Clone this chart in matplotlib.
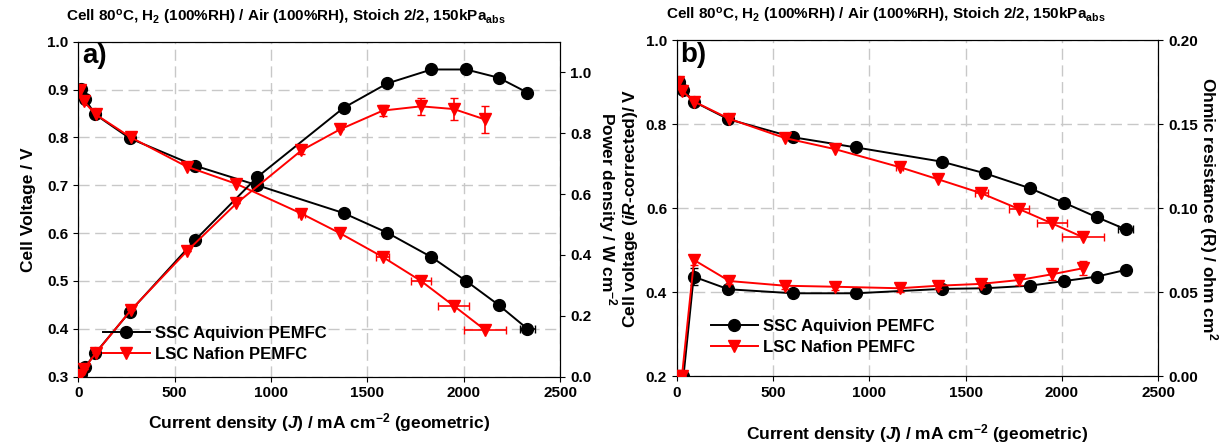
import numpy as np
import matplotlib.pyplot as plt

plt.rcParams['font.family'] = 'Liberation Sans'
plt.rcParams['font.weight'] = 'bold'
plt.rcParams['axes.labelweight'] = 'bold'
plt.rcParams['mathtext.fontset'] = 'custom'
plt.rcParams['mathtext.rm'] = 'Liberation Sans:bold'
plt.rcParams['mathtext.bf'] = 'Liberation Sans:bold'
plt.rcParams['mathtext.it'] = 'Liberation Sans:italic:bold'
plt.rcParams['mathtext.default'] = 'bf'

# SSC Aquivion PEMFC (black)
j_ssc = [12, 35, 88, 268, 605, 929, 1376, 1602, 1832, 2012, 2180, 2330]
v_ssc = [0.901, 0.880, 0.848, 0.798, 0.741, 0.700, 0.642, 0.601, 0.550, 0.500, 0.450, 0.400]
p_ssc = [0.010, 0.031, 0.077, 0.214, 0.448, 0.656, 0.883, 0.963, 1.009, 1.009, 0.982, 0.933]
jerr_ssc = [0, 0, 0, 0, 0, 0, 10, 12, 12, 18, 20, 40]
virc_ssc = [0.901, 0.882, 0.854, 0.812, 0.769, 0.745, 0.711, 0.683, 0.648, 0.613, 0.579, 0.550]
r_ssc = [0.0, 0.0, 0.0593, 0.0518, 0.0494, 0.0494, 0.0520, 0.0524, 0.0539, 0.0567, 0.0593, 0.0633]
rerr_ssc = [0, 0, 0.0052, 0.001, 0.001, 0.001, 0.001, 0.001, 0.001, 0.001, 0.001, 0.001]

# LSC Nafion PEMFC (red)
j_lsc = [7, 27, 90, 273, 563, 820, 1157, 1357, 1580, 1778, 1948, 2109]
v_lsc = [0.900, 0.876, 0.848, 0.800, 0.739, 0.703, 0.641, 0.600, 0.550, 0.500, 0.448, 0.398]
p_lsc = [0.006, 0.024, 0.077, 0.219, 0.412, 0.569, 0.743, 0.812, 0.874, 0.888, 0.879, 0.845]
jerr_lsc = [0, 0, 0, 0, 0, 0, 18, 0, 34, 52, 80, 110]
perr_lsc = [0, 0, 0, 0, 0, 0, 0.012, 0, 0.019, 0.027, 0.037, 0.044]
virc_lsc = [0.900, 0.880, 0.854, 0.813, 0.767, 0.741, 0.698, 0.669, 0.636, 0.598, 0.564, 0.531]
r_lsc = [0.0, 0.0, 0.0692, 0.0567, 0.0539, 0.0533, 0.0524, 0.0539, 0.0550, 0.0573, 0.0607, 0.0643]
rerr_lsc = [0, 0, 0.003, 0.002, 0.002, 0.002, 0.002, 0.002, 0.002, 0.003, 0.0033, 0.0043]

title = 'Cell 80$^{o}$C, H$_2$ (100%RH) / Air (100%RH), Stoich 2/2, 150kPa$_{abs}$'
xlab = 'Current density ($\\mathit{J}$) / mA cm$^{-2}$ (geometric)'

blk = dict(color='black', marker='o', ms=8.5, lw=1.4, capsize=3, elinewidth=1.2, zorder=3)
red = dict(color='#ff0000', marker='v', ms=8.5, lw=1.4, capsize=3, elinewidth=1.2, zorder=4)
gridkw = dict(ls=(0, (8, 4)), color='#c8c8c8', lw=1.0)
tick_fs = 11
lab_fs = 12.5


def bold_ticks(ax):
    ax.tick_params(labelsize=tick_fs)
    for t in ax.get_xticklabels() + ax.get_yticklabels():
        t.set_fontweight('bold')


fig = plt.figure(figsize=(12.2, 4.43), dpi=100)

# ---- panel a ----
ax1 = fig.add_axes([0.0642, 0.1497, 0.395, 0.756])
ax2 = ax1.twinx()
h1 = ax1.errorbar(j_ssc, v_ssc, xerr=jerr_ssc, **blk)
h2 = ax1.errorbar(j_lsc, v_lsc, xerr=jerr_lsc, **red)
ax2.errorbar(j_ssc, p_ssc, **blk)
ax2.errorbar(j_lsc, p_lsc, yerr=perr_lsc, **red)
ax1.set_xlim(0, 2500)
ax1.set_ylim(0.3, 1.0)
ax2.set_ylim(0, 1.1)
ax1.set_xticks([0, 500, 1000, 1500, 2000, 2500])
ax1.set_yticks(np.arange(0.3, 1.01, 0.1))
ax1.set_yticklabels(['0.3', '0.4', '0.5', '0.6', '0.7', '0.8', '0.9', '1.0'])
ax2.set_yticks([0, 0.2, 0.4, 0.6, 0.8, 1.0])
ax2.set_yticklabels(['0.0', '0.2', '0.4', '0.6', '0.8', '1.0'])
ax1.grid(True, **gridkw)
ax1.set_axisbelow(True)
bold_ticks(ax1)
bold_ticks(ax2)
ax1.set_xlabel(xlab, fontsize=lab_fs, labelpad=8)
ax1.set_ylabel('Cell Voltage / V', fontsize=lab_fs, labelpad=8)
ax2.set_ylabel('Power density / W cm$^{-2}$', fontsize=lab_fs, rotation=270, labelpad=20)
ax1.text(0.43, 1.045, title, transform=ax1.transAxes, ha='center', va='bottom', fontsize=11)
ax1.text(0.008, 0.995, 'a)', transform=ax1.transAxes, ha='left', va='top', fontsize=20)
ax2.legend([h1[0], h2[0]], ['SSC Aquivion PEMFC', 'LSC Nafion PEMFC'], loc='lower left',
           bbox_to_anchor=(0.02, 0.0), frameon=False, fontsize=12, handlelength=2.8,
           labelspacing=0.35, handletextpad=0.3)

# ---- panel b ----
ax3 = fig.add_axes([0.5547, 0.1506, 0.3947, 0.7585])
ax4 = ax3.twinx()
h3 = ax3.errorbar(j_ssc, virc_ssc, xerr=jerr_ssc, **blk)
h4 = ax3.errorbar(j_lsc, virc_lsc, xerr=jerr_lsc, **red)
ax4.errorbar(j_ssc, r_ssc, yerr=rerr_ssc, **blk)
ax4.errorbar(j_lsc, r_lsc, yerr=rerr_lsc, **red)
ax3.set_xlim(0, 2500)
ax3.set_ylim(0.2, 1.0)
ax4.set_ylim(0, 0.2)
ax3.set_xticks([0, 500, 1000, 1500, 2000, 2500])
ax3.set_yticks([0.2, 0.4, 0.6, 0.8, 1.0])
ax3.set_yticklabels(['0.2', '0.4', '0.6', '0.8', '1.0'])
ax4.set_yticks([0, 0.05, 0.10, 0.15, 0.20])
ax4.set_yticklabels(['0.00', '0.05', '0.10', '0.15', '0.20'])
ax3.grid(True, **gridkw)
ax3.set_axisbelow(True)
bold_ticks(ax3)
bold_ticks(ax4)
ax3.set_xlabel(xlab, fontsize=lab_fs, labelpad=16)
ax3.set_ylabel('Cell voltage ($\\mathit{iR}$-corrected)/ V', fontsize=lab_fs, labelpad=4)
ax4.set_ylabel('Ohmic resistance (R) / ohm cm$^{2}$', fontsize=lab_fs, rotation=270, labelpad=16)
ax3.text(0.435, 1.045, title, transform=ax3.transAxes, ha='center', va='bottom', fontsize=11)
ax3.text(0.008, 0.995, 'b)', transform=ax3.transAxes, ha='left', va='top', fontsize=20)
ax4.legend([h3[0], h4[0]], ['SSC Aquivion PEMFC', 'LSC Nafion PEMFC'], loc='lower left',
           bbox_to_anchor=(0.04, 0.02), frameon=False, fontsize=12, handlelength=2.8,
           labelspacing=0.35, handletextpad=0.3)

fig.savefig('out.png', dpi=100)
